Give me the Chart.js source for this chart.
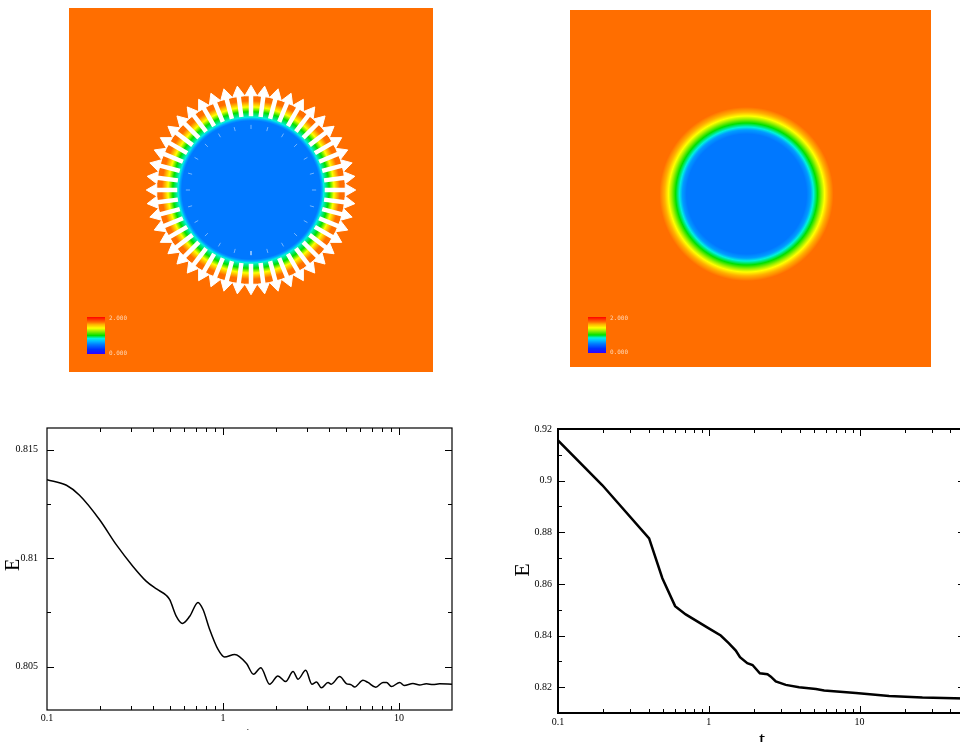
<!DOCTYPE html>
<html>
<head>
<meta charset="utf-8">
<script src="https://cdn.jsdelivr.net/npm/chart.js"></script>
<style>
  html, body { margin: 0; padding: 0; background: #fff; width: 960px; height: 742px; overflow: hidden; }
  .panel { position: absolute; overflow: hidden; }
  canvas { display: block; }
</style>
</head>
<body>
<div class="panel" style="left:69px;top:8px;width:364px;height:364px"><canvas id="fieldA" width="364" height="364"></canvas></div>
<div class="panel" style="left:570px;top:10px;width:361px;height:357px"><canvas id="fieldB" width="361" height="357"></canvas></div>
<div class="panel" style="left:0;top:420px;width:470px;height:310px"><canvas id="energyA" width="470" height="322"></canvas></div>
<div class="panel" style="left:490px;top:415px;width:470px;height:327px"><canvas id="energyB" width="500" height="327"></canvas></div>
<script>
// ---- data ----
// energy vs time, left run (oscillating relaxation)
const tLeft = [0.1, 0.129, 0.153, 0.1995, 0.248, 0.308, 0.367, 0.419, 0.477, 0.498,
  0.543, 0.588, 0.647, 0.721, 0.77, 0.84, 0.937, 1.02, 1.166, 1.36,
  1.49, 1.64, 1.84, 2.05, 2.27, 2.5, 2.67, 2.95, 3.2, 3.4,
  3.62, 3.95, 4.12, 4.6, 5.02, 5.36, 5.6, 6.24, 6.66, 7.38,
  8.11, 8.5, 9.05, 10.1, 10.7, 12, 13.1, 14.3, 15.6, 17, 20];
const eLeft = [0.81362, 0.81336, 0.8129, 0.81176, 0.81061, 0.80962, 0.80893, 0.80858, 0.80828, 0.80809,
  0.80732, 0.80699, 0.80732, 0.80796, 0.80763, 0.80671, 0.80579, 0.80544, 0.80556, 0.80514,
  0.80465, 0.80495, 0.80419, 0.80457, 0.80431, 0.80477, 0.80442, 0.80483, 0.80419, 0.80429,
  0.80402, 0.80427, 0.80419, 0.80454, 0.80422, 0.80416, 0.80406, 0.80437, 0.80427, 0.80405,
  0.80427, 0.80427, 0.80408, 0.80427, 0.80413, 0.80422, 0.80415, 0.80421, 0.80417, 0.80421, 0.80419];

// energy vs time, right run
const tRight = [0.1, 0.197, 0.402, 0.492, 0.598, 0.703, 1.0, 1.2, 1.36, 1.51,
  1.61, 1.8, 1.95, 2.18, 2.45, 2.58, 2.78, 3.24, 3.97, 5.13,
  5.82, 9.45, 15.7, 26.1, 50];
const eRight = [0.9156, 0.8982, 0.8776, 0.8622, 0.8514, 0.8482, 0.8428, 0.8400, 0.8370, 0.8342,
  0.8316, 0.8293, 0.8286, 0.8254, 0.8250, 0.8241, 0.8222, 0.8209, 0.8200, 0.8193,
  0.8187, 0.8177, 0.8166, 0.8160, 0.8156];

const xMajor = [0.1, 1, 10];
const xMinorLeft = [0.2, 0.3, 0.4, 0.5, 0.6, 0.7, 0.8, 0.9, 2, 3, 4, 5, 6, 7, 8, 9, 20];
const xMinorRight = [0.2, 0.3, 0.4, 0.5, 0.6, 0.7, 0.8, 0.9, 2, 3, 4, 5, 6, 7, 8, 9, 20, 30, 40, 50];
const yMajorLeft = [0.805, 0.81, 0.815];
const yMinorLeft = [0.8075, 0.8125];
const yMajorRight = [0.82, 0.84, 0.86, 0.88, 0.9, 0.92];
const yMinorRight = [0.83, 0.85, 0.87, 0.89, 0.91];

// radial profile of the field (radius in box units, value on the 0..2 colour scale)
const profileRLeft = [0, 0.38, 0.39, 0.40, 0.43, 0.456, 0.49];
const profileVLeft = [0.5, 0.5, 0.62, 0.84, 1.0, 1.4, 1.72];
const profileRRight = [0, 0.332, 0.355, 0.371, 0.393, 0.416, 0.432, 0.454, 0.482];
const profileVRight = [0.5, 0.5, 0.6, 0.84, 1.0, 1.24, 1.4, 1.6, 1.72];

// velocity arrows around the interface (degrees)
const arrowAngles = [0, 7.5, 15, 22.5, 30, 37.5, 45, 52.5, 60, 67.5, 75, 82.5,
  90, 97.5, 105, 112.5, 120, 127.5, 135, 142.5, 150, 157.5, 165, 172.5,
  180, 187.5, 195, 202.5, 210, 217.5, 225, 232.5, 240, 247.5, 255, 262.5,
  270, 277.5, 285, 292.5, 300, 307.5, 315, 322.5, 330, 337.5, 345, 352.5];
const colorbarLabels = ['2.000', '0.000'];

// ---- colour map ----
const jetStops = [[0, [48, 0, 255]], [0.12, [0, 48, 255]], [0.25, [0, 120, 255]], [0.35, [0, 192, 255]],
  [0.42, [0, 240, 224]], [0.5, [0, 224, 0]], [0.62, [160, 240, 0]], [0.7, [255, 255, 0]],
  [0.8, [255, 176, 0]], [0.86, [255, 110, 0]], [1, [255, 0, 0]]];
const rgb = c => 'rgb(' + c.map(Math.round).join(',') + ')';
function jet(f) {
  for (let i = 1; i < jetStops.length; i++) {
    if (f <= jetStops[i][0]) {
      const [f0, c0] = jetStops[i - 1], [f1, c1] = jetStops[i];
      const k = (f - f0) / (f1 - f0);
      return rgb(c0.map((v, j) => v + (c1[j] - v) * k));
    }
  }
  return rgb(jetStops[jetStops.length - 1][1]);
}

// background field + colour bar
function fieldPlugin(o) {
  return {
    id: 'field',
    beforeDatasetsDraw(chart) {
      const { ctx, chartArea: a, scales: { x, y } } = chart;
      const cx = x.getPixelForValue(o.cx), cy = y.getPixelForValue(o.cy);
      const unit = x.getPixelForValue(1) - x.getPixelForValue(0);
      const rMax = o.r[o.r.length - 1] * unit;
      const g = ctx.createRadialGradient(cx, cy, 0, cx, cy, rMax);
      o.r.forEach((r, i) => g.addColorStop(r * unit / rMax, jet(o.v[i] / 2)));
      ctx.save();
      ctx.fillStyle = g;
      ctx.fillRect(a.left, a.top, a.right - a.left, a.bottom - a.top);
      const bx = a.left + 18, by = a.top + o.barTop, bw = 18, bh = o.barH;
      const lg = ctx.createLinearGradient(0, by, 0, by + bh);
      jetStops.forEach(s => lg.addColorStop(1 - s[0], rgb(s[1])));
      ctx.fillStyle = lg;
      ctx.fillRect(bx, by, bw, bh);
      ctx.font = '6px "DejaVu Sans Mono"';
      ctx.fillStyle = '#ffd9b8';
      ctx.textBaseline = 'middle';
      ctx.fillText(colorbarLabels[0], bx + bw + 4, by + 1);
      ctx.fillText(colorbarLabels[1], bx + bw + 4, by + bh - 1);
      ctx.restore();
    }
  };
}

function fieldChart(id, o, arrows) {
  const datasets = [];
  if (arrows) {
    const shafts = [], heads = [], dashes = [];
    arrowAngles.forEach((d, i) => {
      const c = Math.cos(d * Math.PI / 180), s = Math.sin(d * Math.PI / 180);
      shafts.push({ x: o.cx + 0.405 * c, y: o.cy + 0.405 * s }, { x: o.cx + 0.54 * c, y: o.cy + 0.54 * s }, { x: NaN, y: NaN });
      heads.push({ x: o.cx + 0.537 * c, y: o.cy + 0.537 * s });
      if (i % 2 === 0) dashes.push({ x: o.cx + 0.335 * c, y: o.cy + 0.335 * s }, { x: o.cx + 0.358 * c, y: o.cy + 0.358 * s }, { x: NaN, y: NaN });
    });
    datasets.push({ data: dashes, showLine: true, spanGaps: false, pointRadius: 0, borderWidth: 1, borderColor: 'rgba(210,232,255,0.55)' });
    datasets.push({ data: shafts, showLine: true, spanGaps: false, pointRadius: 0, borderWidth: 4.5, borderColor: '#ffffff' });
    datasets.push({
      data: heads, pointStyle: 'triangle', pointRadius: 7, pointBorderWidth: 1,
      pointBackgroundColor: '#ffffff', pointBorderColor: '#ffffff',
      pointRotation: ctx => 90 - arrowAngles[ctx.dataIndex]
    });
  }
  new Chart(document.getElementById(id), {
    type: 'scatter',
    data: { datasets },
    options: {
      responsive: false, animation: false, events: [],
      layout: { padding: 0, autoPadding: false },
      plugins: { legend: { display: false }, tooltip: { enabled: false } },
      scales: {
        x: { type: 'linear', min: -1, max: 1, display: false },
        y: { type: 'linear', min: -1, max: 1, display: false }
      }
    },
    plugins: [fieldPlugin(o)]
  });
}

fieldChart('fieldA', { cx: 0, cy: 0, r: profileRLeft, v: profileVLeft, barTop: 309, barH: 37 }, true);
fieldChart('fieldB', { cx: -0.022, cy: -0.031, r: profileRRight, v: profileVRight, barTop: 307, barH: 36 }, false);

// xmgrace-style frame, inward ticks and axis titles
function gracePlugin(o) {
  return {
    id: 'grace',
    afterDraw(chart) {
      const { ctx, chartArea: a, scales: { x, y } } = chart;
      ctx.save();
      ctx.strokeStyle = '#000';
      ctx.lineWidth = 1;
      ctx.beginPath();
      const xt = (vals, len) => vals.forEach(v => {
        const p = Math.round(x.getPixelForValue(v)) + 0.5;
        if (p <= a.left + 1 || p >= a.right - 1) return;
        ctx.moveTo(p, a.bottom); ctx.lineTo(p, a.bottom - len);
        ctx.moveTo(p, a.top); ctx.lineTo(p, a.top + len);
      });
      const yt = (vals, len) => vals.forEach(v => {
        const p = Math.round(y.getPixelForValue(v)) + 0.5;
        if (p <= a.top + 1 || p >= a.bottom - 1) return;
        ctx.moveTo(a.left, p); ctx.lineTo(a.left + len, p);
        ctx.moveTo(a.right, p); ctx.lineTo(a.right - len, p);
      });
      xt(o.xMajor, 7); xt(o.xMinor, 4);
      yt(o.yMajor, 7); yt(o.yMinor, 4);
      ctx.stroke();
      ctx.lineWidth = o.frame;
      ctx.strokeRect(a.left, a.top, a.right - a.left, a.bottom - a.top);
      ctx.fillStyle = '#000';
      ctx.font = o.titleSize + 'px "Liberation Serif"';
      ctx.textAlign = 'center';
      ctx.textBaseline = 'middle';
      ctx.save();
      ctx.translate(o.eX, o.eY);
      ctx.rotate(-Math.PI / 2);
      ctx.fillText('E', 0, 0);
      ctx.restore();
      ctx.textBaseline = 'top';
      ctx.fillText('t', o.tX, o.tY);
      ctx.restore();
    }
  };
}

function energyChart(id, t, e, c) {
  new Chart(document.getElementById(id), {
    type: 'scatter',
    data: {
      datasets: [{
        data: t.map((v, i) => ({ x: v, y: e[i] })),
        showLine: true, pointRadius: 0, pointHoverRadius: 0, borderColor: '#000', borderWidth: c.lw,
        cubicInterpolationMode: c.smooth ? 'monotone' : 'default', tension: 0
      }]
    },
    options: {
      responsive: false, animation: false, events: [],
      layout: { padding: { top: c.padTop, right: c.padRight, left: 0, bottom: 0 }, autoPadding: false },
      plugins: { legend: { display: false }, tooltip: { enabled: false } },
      scales: {
        x: {
          type: 'logarithmic', min: 0.1, max: c.xMax,
          grid: { display: false, drawTicks: false }, border: { display: false },
          afterBuildTicks: s => { s.ticks = xMajor.map(v => ({ value: v })); },
          afterFit: s => { s.height = c.xH; s.paddingLeft = 0; s.paddingRight = 0; },
          ticks: {
            autoSkip: false, maxRotation: 0, padding: c.xPad, color: '#000',
            font: { family: 'Liberation Serif', size: 10 },
            callback: v => String(v)
          }
        },
        y: {
          type: 'linear', min: c.yMin, max: c.yMax,
          grid: { display: false, drawTicks: false }, border: { display: false },
          afterBuildTicks: s => { s.ticks = c.yMajor.map(v => ({ value: v })); },
          afterFit: s => { s.width = c.yW; s.paddingTop = 0; s.paddingBottom = 0; },
          ticks: {
            autoSkip: false, padding: c.yPad, color: '#000',
            font: { family: 'Liberation Serif', size: 10 },
            callback: v => String(v)
          }
        }
      }
    },
    plugins: [gracePlugin(c)]
  });
}

energyChart('energyA', tLeft, eLeft, {
  lw: 1.5, smooth: true, xMax: 20, yMin: 0.803, yMax: 0.816,
  padTop: 8, padRight: 18, xH: 32, yW: 47, xPad: 2, yPad: 9,
  xMajor, xMinor: xMinorLeft, yMajor: yMajorLeft, yMinor: yMinorLeft,
  frame: 1.2, titleSize: 20, eX: 14, eY: 145, tX: 248, tY: 306
});
energyChart('energyB', tRight, eRight, {
  lw: 2.5, smooth: false, xMax: 50, yMin: 0.81, yMax: 0.92,
  padTop: 14, padRight: 25, xH: 29, yW: 68, xPad: 3, yPad: 6,
  xMajor, xMinor: xMinorRight, yMajor: yMajorRight, yMinor: yMinorRight,
  frame: 2, titleSize: 22, eX: 33, eY: 155, tX: 272, tY: 314
});
</script>
</body>
</html>
